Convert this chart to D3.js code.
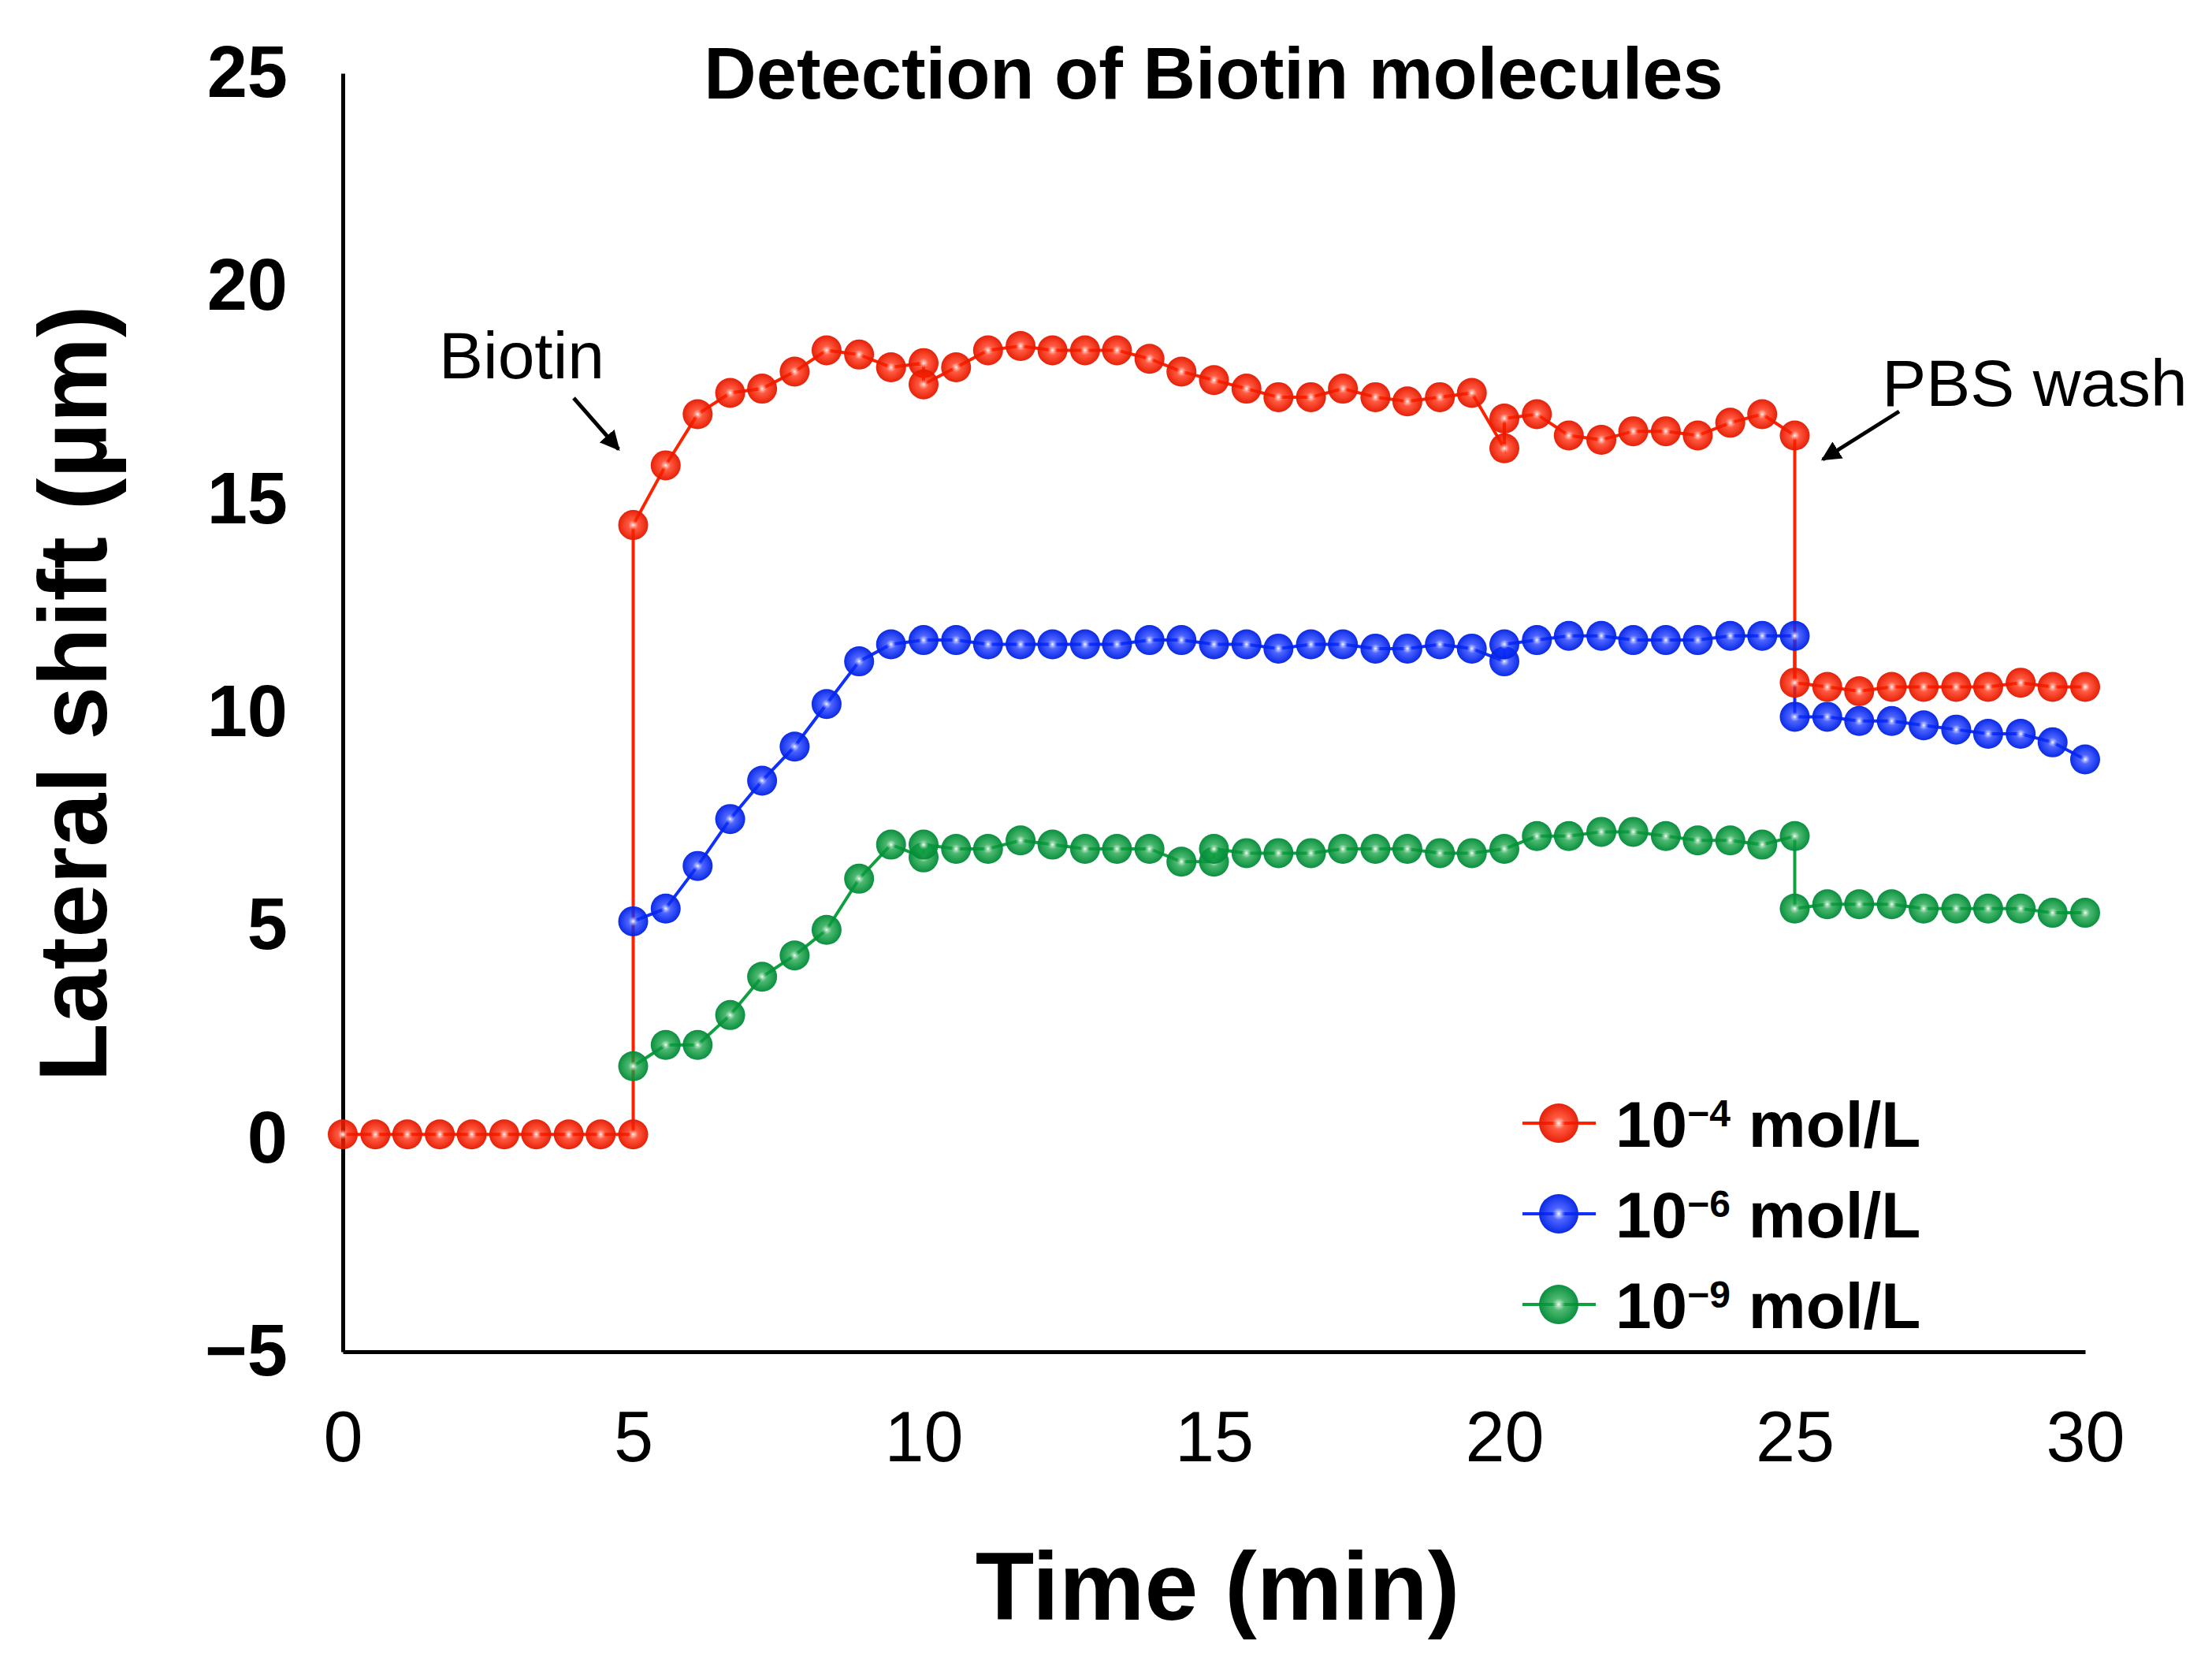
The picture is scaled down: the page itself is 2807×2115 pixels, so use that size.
<!DOCTYPE html>
<html><head><meta charset="utf-8">
<script src="https://cdn.jsdelivr.net/npm/d3@7"></script>
<style>body{margin:0;background:#fff}text{font-family:Arial,"Liberation Sans",sans-serif}</style>
</head><body>
<svg id="c" width="2807" height="2115"></svg>
<script>
const xTicks=[0,5,10,15,20,25,30];
const yTicks=[-5,0,5,10,15,20,25];
const redT=[0,0.56,1.11,1.67,2.22,2.78,3.33,3.89,4.44,5,5,5.56,6.11,6.67,7.22,7.78,8.33,8.89,9.44,10,10,10.56,11.11,11.67,12.22,12.78,13.33,13.89,14.44,15,15.56,16.11,16.67,17.22,17.78,18.33,18.89,19.44,20,20,20.56,21.11,21.67,22.22,22.78,23.33,23.89,24.44,25,25,25.56,26.11,26.67,27.22,27.78,28.33,28.89,29.44,30];
const redV=[0.1,0.1,0.1,0.1,0.1,0.1,0.1,0.1,0.1,0.1,14.4,15.8,17.0,17.5,17.6,18.0,18.5,18.4,18.1,18.2,17.7,18.1,18.5,18.6,18.5,18.5,18.5,18.3,18.0,17.8,17.6,17.4,17.4,17.6,17.4,17.3,17.4,17.5,16.2,16.9,17.0,16.5,16.4,16.6,16.6,16.5,16.8,17.0,16.5,10.7,10.6,10.5,10.6,10.6,10.6,10.6,10.7,10.6,10.6];
const blueT=[5,5.56,6.11,6.67,7.22,7.78,8.33,8.89,9.44,10,10.56,11.11,11.67,12.22,12.78,13.33,13.89,14.44,15,15.56,16.11,16.67,17.22,17.78,18.33,18.89,19.44,20,20,20.56,21.11,21.67,22.22,22.78,23.33,23.89,24.44,25,25,25.56,26.11,26.67,27.22,27.78,28.33,28.89,29.44,30];
const blueV=[5.1,5.4,6.4,7.5,8.4,9.2,10.2,11.2,11.6,11.7,11.7,11.6,11.6,11.6,11.6,11.6,11.7,11.7,11.6,11.6,11.5,11.6,11.6,11.5,11.5,11.6,11.5,11.2,11.6,11.7,11.8,11.8,11.7,11.7,11.7,11.8,11.8,11.8,9.9,9.9,9.8,9.8,9.7,9.6,9.5,9.5,9.3,8.9];
const greenT=[5,5.56,6.11,6.67,7.22,7.78,8.33,8.89,9.44,10,10,10.56,11.11,11.67,12.22,12.78,13.33,13.89,14.44,15,15,15.56,16.11,16.67,17.22,17.78,18.33,18.89,19.44,20,20.56,21.11,21.67,22.22,22.78,23.33,23.89,24.44,25,25,25.56,26.11,26.67,27.22,27.78,28.33,28.89,29.44,30];
const greenV=[1.7,2.2,2.2,2.9,3.8,4.3,4.9,6.1,6.9,6.6,6.9,6.8,6.8,7.0,6.9,6.8,6.8,6.8,6.5,6.5,6.8,6.7,6.7,6.7,6.8,6.8,6.8,6.7,6.7,6.8,7.1,7.1,7.2,7.2,7.1,7.0,7.0,6.9,7.1,5.4,5.5,5.5,5.5,5.4,5.4,5.4,5.4,5.3,5.3];
const seriesNames=["10","10","10"], seriesExp=["−4","−6","−9"];
const colors=["#ff2200","#1030ff","#10a040"];
const dark=["#e01800","#0020e0","#008838"];

const svg=d3.select("#c");
const x=d3.scaleLinear().domain([0,30]).range([435,2646]);
const y=d3.scaleLinear().domain([-5,25]).range([1715,93]);
const defs=svg.append("defs");
colors.forEach((c,i)=>{
 const g=defs.append("radialGradient").attr("id","g"+i).attr("cx","50%").attr("cy","50%").attr("r","55%");
 g.append("stop").attr("offset","0%").attr("stop-color","#fff");
 g.append("stop").attr("offset","30%").attr("stop-color",c).attr("stop-opacity",0.75);
 g.append("stop").attr("offset","100%").attr("stop-color",dark[i]);
});
svg.append("g").attr("transform",`translate(0,${y(-5)})`).call(d3.axisBottom(x).tickValues(xTicks).tickSize(0).tickPadding(75))
 .call(g=>{g.select(".domain").attr("stroke","#000").attr("stroke-width",5);g.selectAll("text").attr("font-size",90).attr("fill","#000").attr("dy","0.71em");});
svg.append("g").attr("transform",`translate(${x(0)},0)`).call(d3.axisLeft(y).tickValues(yTicks).tickSize(0).tickPadding(70).tickFormat(d=>d<0?"−"+(-d):d))
 .call(g=>{g.select(".domain").attr("stroke","#000").attr("stroke-width",5);g.selectAll("text").attr("font-size",92).attr("font-weight","bold").attr("fill","#000");});
const ts=[[redT,redV],[blueT,blueV],[greenT,greenV]];
const line=d3.line().x(d=>x(d[0])).y(d=>y(d[1]));
const r=19;
[2,1,0].forEach(i=>{
 const pts=ts[i][0].map((t,k)=>[t,ts[i][1][k]]);
 svg.append("path").attr("d",line(pts)).attr("fill","none").attr("stroke",colors[i]).attr("stroke-width",4);
});
[2,1,0].forEach(i=>{
 const pts=ts[i][0].map((t,k)=>[t,ts[i][1][k]]);
 svg.append("g").selectAll("circle").data(pts).join("circle").attr("cx",d=>x(d[0])).attr("cy",d=>y(d[1])).attr("r",r).attr("fill",`url(#g${i})`);
});
svg.append("text").attr("x",1540).attr("y",125).attr("text-anchor","middle").attr("font-size",92).attr("font-weight","bold").text("Detection of Biotin molecules");
svg.append("text").attr("x",1545).attr("y",2055).attr("text-anchor","middle").attr("font-size",122).attr("font-weight","bold").text("Time (min)");
svg.append("text").attr("transform","translate(135,880) rotate(-90)").attr("text-anchor","middle").attr("font-size",122).attr("font-weight","bold").text("Lateral shift (µm)");
svg.append("text").attr("x",662).attr("y",480).attr("text-anchor","middle").attr("font-size",84).text("Biotin");
svg.append("text").attr("x",2582).attr("y",515).attr("text-anchor","middle").attr("font-size",84).text("PBS wash");
defs.append("marker").attr("id","ah").attr("viewBox","0 0 10 10").attr("refX",9).attr("refY",5).attr("markerWidth",5).attr("markerHeight",5).attr("orient","auto").append("path").attr("d","M0,0L10,5L0,10z").attr("fill","#000");
svg.append("line").attr("x1",728).attr("y1",505).attr("x2",785).attr("y2",570).attr("stroke","#000").attr("stroke-width",5).attr("marker-end","url(#ah)");
svg.append("line").attr("x1",2410).attr("y1",522).attr("x2",2313).attr("y2",583).attr("stroke","#000").attr("stroke-width",5).attr("marker-end","url(#ah)");
const lg=svg.append("g");
[0,1,2].forEach(i=>{
 const yy=1425+i*115;
 lg.append("line").attr("x1",1932).attr("x2",2025).attr("y1",yy).attr("y2",yy).attr("stroke",colors[i]).attr("stroke-width",4);
 lg.append("circle").attr("cx",1978).attr("cy",yy).attr("r",25).attr("fill",`url(#g${i})`);
 const t=lg.append("text").attr("x",2050).attr("y",yy+30).attr("font-size",82).attr("font-weight","bold");
 t.append("tspan").text(seriesNames[i]);
 t.append("tspan").attr("dy",-26).attr("font-size",48).text(seriesExp[i]);
 t.append("tspan").attr("dy",26).text(" mol/L");
});
</script>
</body></html>
